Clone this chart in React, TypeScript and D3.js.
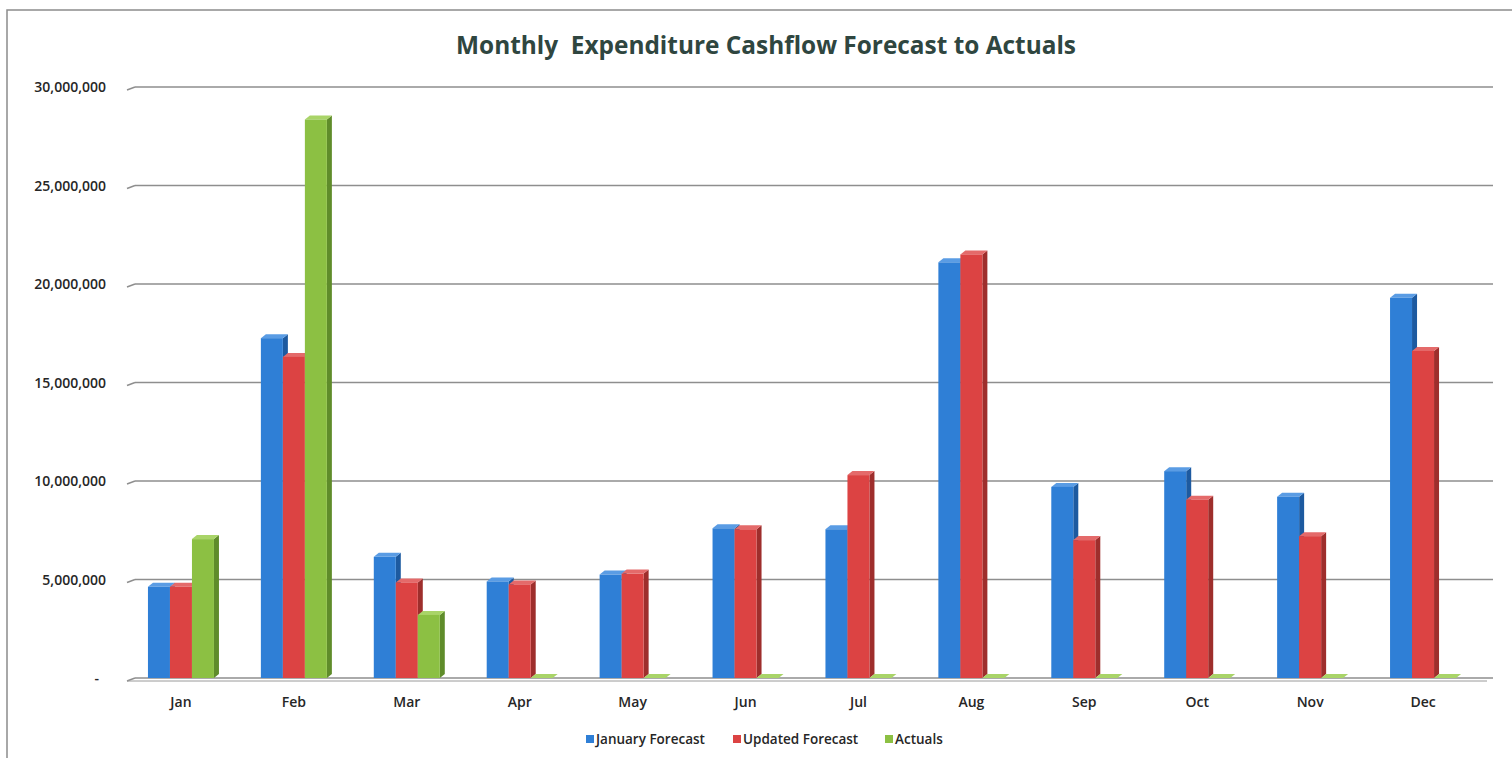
import React from "react";
import * as d3 from "d3";

const months = ["Jan", "Feb", "Mar", "Apr", "May", "Jun", "Jul", "Aug", "Sep", "Oct", "Nov", "Dec"];
const seriesNames = ["January Forecast", "Updated Forecast", "Actuals"];
const januaryForecast = [4630000, 17250000, 6150000, 4900000, 5250000, 7600000, 7550000, 21100000, 9700000, 10500000, 9200000, 19300000];
const updatedForecast = [4630000, 16300000, 4850000, 4750000, 5300000, 7550000, 10300000, 21500000, 7000000, 9050000, 7200000, 16600000];
const actuals = [7050000, 28350000, 3200000, 0, 0, 0, 0, 0, 0, 0, 0, 0];
const yTicks = [0, 5000000, 10000000, 15000000, 20000000, 25000000, 30000000];

const seriesValues = [januaryForecast, updatedForecast, actuals];
const front = ["#2f7fd6", "#dc4343", "#8cc043"];
const side = ["#1d5aa0", "#9e2e2c", "#5f8c2a"];
const top = ["#5a9ce4", "#e46a6a", "#a9d468"];

const W = 1512;
const H = 758;
const plotLeft = 135;
const plotRight = 1493;
const y0 = 678;
const yTop = 87;
const DX = 5;
const DY = 4;

export default function App() {
  const y = d3.scaleLinear().domain([0, 30000000]).range([y0, yTop]);
  const x = d3.scaleBand<string>().domain(months).range([124.5, 1479.5]).padding(0);
  const inner = d3.scaleBand<number>().domain([0, 1, 2]).range([0, 66]).padding(0);
  const fmt = d3.format(",");
  const font = "'Open Sans', 'Liberation Sans', sans-serif";

  const bars: JSX.Element[] = [];
  months.forEach((m, i) => {
    const cx = (x(m) as number) + x.bandwidth() / 2;
    const gx = cx - 33;
    seriesValues.forEach((vals, s) => {
      const v = vals[i];
      const bx = gx + (inner(s) as number);
      const bw = inner.bandwidth();
      const yt = y(v);
      const key = `${m}-${s}`;
      bars.push(
        <g key={key}>
          <polygon
            points={`${bx + bw},${yt} ${bx + bw + DX},${yt - DY} ${bx + bw + DX},${y0 - DY} ${bx + bw},${y0}`}
            fill={side[s]}
          />
          <polygon
            points={`${bx},${yt} ${bx + DX},${yt - DY} ${bx + bw + DX},${yt - DY} ${bx + bw},${yt}`}
            fill={top[s]}
          />
          {v > 0 && <rect x={bx} y={yt} width={bw} height={y0 - yt} fill={front[s]} />}
        </g>
      );
    });
  });

  const legendItems = [
    { x: 586, label: seriesNames[0] },
    { x: 733, label: seriesNames[1] },
    { x: 885, label: seriesNames[2] },
  ];

  return (
    <svg width={W} height={H} style={{ position: "absolute", left: 0, top: 0, background: "#fff" }}>
      <rect x={7} y={10} width={1520} height={770} fill="#fff" stroke="#8c8c8c" strokeWidth={1.5} />
      <text x={766} y={54} textAnchor="middle" fontFamily={font} fontWeight={700} fontSize={24.4} fill="#2f4640">
        Monthly{"\u00a0\u00a0"}Expenditure Cashflow Forecast to Actuals
      </text>
      {yTicks.map((t) => (
        <g key={t}>
          <line x1={plotLeft} x2={plotRight} y1={y(t)} y2={y(t)} stroke="#8e8e8e" strokeWidth={1.5} />
          <line x1={plotLeft - 8} x2={plotLeft} y1={y(t) + 3} y2={y(t)} stroke="#8e8e8e" strokeWidth={1.5} />
          <text
            x={t === 0 ? 99 : 106}
            y={y(t) + 5}
            textAnchor="end"
            fontFamily={font}
            fontSize={14}
            fontWeight={600}
            fill="#262626"
          >
            {t === 0 ? "-" : fmt(t)}
          </text>
        </g>
      ))}
      <line x1={plotLeft - 8} x2={plotRight - 6} y1={y0 + 3} y2={y0 + 3} stroke="#9a9a9a" strokeWidth={1} />
      {bars}
      {months.map((m) => (
        <text
          key={m}
          x={(x(m) as number) + x.bandwidth() / 2}
          y={707}
          textAnchor="middle"
          fontFamily={font}
          fontSize={14}
          fontWeight={600}
          fill="#262626"
        >
          {m}
        </text>
      ))}
      {legendItems.map((it, i) => (
        <g key={it.label}>
          <rect x={it.x} y={735} width={8} height={8} fill={front[i]} />
          <text x={it.x + 10} y={744} fontFamily={font} fontSize={13.5} fontWeight={600} fill="#262626">
            {it.label}
          </text>
        </g>
      ))}
    </svg>
  );
}
